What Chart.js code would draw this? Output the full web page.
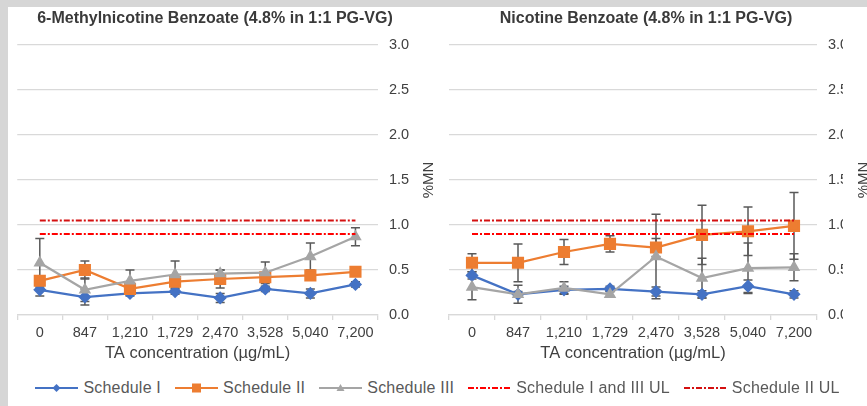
<!DOCTYPE html>
<html>
<head>
<meta charset="utf-8">
<script src="https://cdn.jsdelivr.net/npm/chart.js@4.4.1/dist/chart.umd.min.js"></script>
<style>
  html, body { margin: 0; width: 867px; height: 406px; overflow: hidden; background: #d6d6d6; }
  #frame { position: absolute; left: 8px; top: 7px; width: 859px; height: 399px; background: #fff; overflow: hidden; }
  #frame canvas { position: absolute; top: 0; }
  #left { left: 0; }
  #right { left: 426px; }
  #legend { position: absolute; left: 0; top: 372px; width: 859px; height: 18px; display: flex; justify-content: center; align-items: center;
    font: 16px "Liberation Sans", Arial, sans-serif; color: #595959; letter-spacing: .2px; white-space: nowrap; }
  #legend .item { display: flex; align-items: center; margin: 0 7px; }
  #legend svg { margin-right: 5px; }
</style>
</head>
<body>
<div id="frame">
  <canvas id="left" width="434" height="360"></canvas>
  <canvas id="right" width="440" height="360"></canvas>
  <div id="legend"></div>
</div>
<script>
const categories = ['0', '847', '1,210', '1,729', '2,470', '3,528', '5,040', '7,200'];
const seriesNames = ['Schedule I', 'Schedule II', 'Schedule III', 'Schedule I and III UL', 'Schedule II UL'];
const yMin = 0, yMax = 3, yStep = 0.5;

// 6-Methylnicotine Benzoate
const mnbSched1 = [0.28, 0.20, 0.24, 0.26, 0.19, 0.29, 0.24, 0.34];
const mnbSched1Err = [0.07, 0.09, 0.03, 0.03, 0.05, 0.03, 0.05, 0.03];
const mnbSched2 = [0.38, 0.50, 0.29, 0.37, 0.40, 0.42, 0.44, 0.48];
const mnbSched2Err = [0.05, 0.10, 0.03, 0.04, 0.10, 0.03, 0.03, 0.02];
const mnbSched3 = [0.58, 0.28, 0.38, 0.45, 0.46, 0.47, 0.65, 0.87];
const mnbSched3Err = [0.27, 0.13, 0.12, 0.15, 0.04, 0.12, 0.15, 0.10];

// Nicotine Benzoate
const nbSched1 = [0.44, 0.23, 0.28, 0.29, 0.26, 0.23, 0.32, 0.23];
const nbSched1Err = [0.04, 0.03, 0.04, 0.03, 0.05, 0.04, 0.07, 0.04];
const nbSched2 = [0.58, 0.58, 0.70, 0.79, 0.75, 0.89, 0.93, 0.99];
const nbSched2Err = [0.10, 0.21, 0.14, 0.09, 0.10, 0.33, 0.27, 0.37];
const nbSched3 = [0.31, 0.23, 0.30, 0.23, 0.65, 0.41, 0.52, 0.53];
const nbSched3Err = [0.14, 0.10, 0.07, 0.03, 0.47, 0.22, 0.28, 0.15];

// upper limits
const ulSched13 = [0.90, 0.90, 0.90, 0.90, 0.90, 0.90, 0.90, 0.90];
const ulSched2 = [1.05, 1.05, 1.05, 1.05, 1.05, 1.05, 1.05, 1.05];

const FONT = '"Liberation Sans", Arial, sans-serif';
const colors = ['#4472C4', '#ED7D31', '#A5A5A5', '#FF0000', '#D41010'];
const ulDash = [6, 2, 2, 2];

// error bars drawn under the lines
const errorBars = {
    id: 'errorBars',
    beforeDatasetsDraw(chart) {
        const ctx = chart.ctx, y = chart.scales.y;
        ctx.save();
        ctx.strokeStyle = '#595959';
        ctx.lineWidth = 1.5;
        chart.data.datasets.forEach((ds, i) => {
            if (!ds.errors) return;
            chart.getDatasetMeta(i).data.forEach((pt, j) => {
                const top = y.getPixelForValue(ds.data[j] + ds.errors[j]);
                const bot = y.getPixelForValue(ds.data[j] - ds.errors[j]);
                ctx.beginPath();
                ctx.moveTo(pt.x, top); ctx.lineTo(pt.x, bot);
                ctx.moveTo(pt.x - 4.5, top); ctx.lineTo(pt.x + 4.5, top);
                ctx.moveTo(pt.x - 4.5, bot); ctx.lineTo(pt.x + 4.5, bot);
                ctx.stroke();
            });
        });
        ctx.restore();
    }
};

// y title reads bottom-to-top like the original
const sideTitle = {
    id: 'sideTitle',
    afterDraw(chart, args, opts) {
        const a = chart.chartArea, ctx = chart.ctx;
        ctx.save();
        ctx.translate(a.right + opts.dx, (a.top + a.bottom) / 2);
        ctx.rotate(-Math.PI / 2);
        ctx.font = '15px ' + FONT;
        ctx.fillStyle = '#404040';
        ctx.textAlign = 'center';
        ctx.textBaseline = 'middle';
        ctx.fillText(opts.text, 0, 0);
        ctx.restore();
    }
};

function makeChart(id, title, s1, e1, s2, e2, s3, e3, padLeft, padRight, axisWidth, titleDx) {
    return new Chart(document.getElementById(id), {
        type: 'line',
        data: {
            labels: categories,
            datasets: [
                { label: seriesNames[0], data: s1, errors: e1, borderColor: colors[0], backgroundColor: colors[0],
                  pointStyle: 'rectRot', pointRadius: 5, borderWidth: 2.25, order: 5 },
                { label: seriesNames[1], data: s2, errors: e2, borderColor: colors[1], backgroundColor: colors[1],
                  pointStyle: 'rect', pointRadius: 7, borderWidth: 2.25, order: 4 },
                { label: seriesNames[2], data: s3, errors: e3, borderColor: colors[2], backgroundColor: colors[2],
                  pointStyle: 'triangle', pointRadius: 5, borderWidth: 2.25, order: 3 },
                { label: seriesNames[3], data: ulSched13, borderColor: colors[3], borderDash: ulDash,
                  pointRadius: 0, borderWidth: 2, order: 2 },
                { label: seriesNames[4], data: ulSched2, borderColor: colors[4], borderDash: ulDash,
                  pointRadius: 0, borderWidth: 2, order: 1 }
            ]
        },
        options: {
            responsive: false,
            animation: false,
            layout: { padding: { left: padLeft, right: padRight, top: 0, bottom: 0 } },
            plugins: {
                legend: { display: false },
                tooltip: { enabled: false },
                title: { display: true, text: title, color: '#3a3a3a',
                         font: { family: FONT, size: 16, weight: 'bold' }, padding: { top: 2.4, bottom: 16.4 } },
                sideTitle: { text: '%MN', dx: titleDx }
            },
            scales: {
                x: {
                    offset: true,
                    afterFit: s => { s.height = 52; },
                    grid: { offset: true, drawOnChartArea: false, tickLength: 5, color: '#d9d9d9', lineWidth: 1.3 },
                    border: { color: '#d9d9d9', width: 1.3 },
                    ticks: { color: '#404040', font: { family: FONT, size: 14.5 }, padding: 4, maxRotation: 0, autoSkip: false },
                    title: { display: true, text: 'TA concentration (µg/mL)', color: '#404040',
                             font: { family: FONT, size: 16.5 }, padding: { top: 0, bottom: 4 } }
                },
                y: {
                    position: 'right',
                    min: yMin, max: yMax,
                    afterFit: s => { s.width = axisWidth; },
                    grid: { color: '#d9d9d9', lineWidth: 1.3, drawTicks: false },
                    border: { display: false },
                    ticks: { stepSize: yStep, padding: 11, color: '#404040', font: { family: FONT, size: 14.5 },
                             callback: v => v.toFixed(1) }
                }
            }
        },
        plugins: [errorBars, sideTitle]
    });
}

makeChart('left', '6-Methylnicotine Benzoate (4.8% in 1:1 PG-VG)',
    mnbSched1, mnbSched1Err, mnbSched2, mnbSched2Err, mnbSched3, mnbSched3Err, 4, 24, 40, 51);
makeChart('right', 'Nicotine Benzoate (4.8% in 1:1 PG-VG)',
    nbSched1, nbSched1Err, nbSched2, nbSched2Err, nbSched3, nbSched3Err, 15, 31, 26, 47);

// shared legend under both panels
const markers = ['diamond', 'square', 'triangle', null, null];
const legend = document.getElementById('legend');
seriesNames.forEach((name, i) => {
    const c = colors[i];
    let mark = '';
    if (markers[i] === 'diamond') mark = `<polygon points="21.5,2 25.5,6 21.5,10 17.5,6" fill="${c}"/>`;
    if (markers[i] === 'square') mark = `<rect x="17" y="1.5" width="9" height="9" fill="${c}"/>`;
    if (markers[i] === 'triangle') mark = `<polygon points="21.5,2 25.5,9 17.5,9" fill="${c}"/>`;
    const dash = markers[i] ? '' : `stroke-dasharray="${ulDash.join(' ')}"`;
    const item = document.createElement('div');
    item.className = 'item';
    item.innerHTML = `<svg width="43" height="12"><line x1="0" y1="6" x2="43" y2="6" stroke="${c}" stroke-width="2" ${dash}/>${mark}</svg><span>${name}</span>`;
    legend.appendChild(item);
});
</script>
</body>
</html>
